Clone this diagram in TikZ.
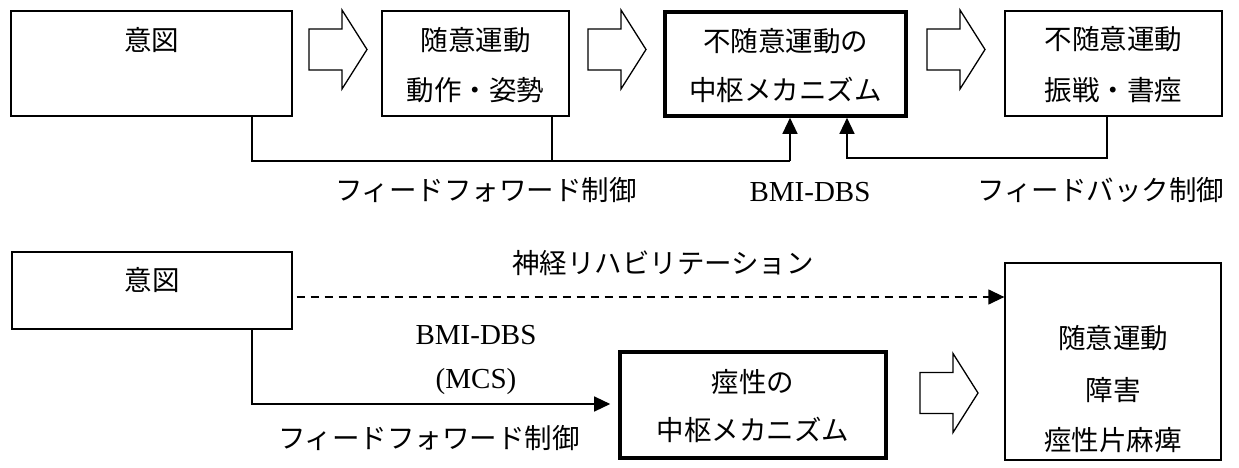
\documentclass[tikz,border=0pt]{standalone}
\usepackage{fontspec}
\setmainfont{Noto Sans CJK JP}
\newfontfamily\latfont{Liberation Serif}
\usetikzlibrary{arrows.meta}
\newcommand\harrow[2]{\draw[hollow] (#1,#2) ++(0,-20.5) -- ++(33,0) -- ++(0,-19) -- ++(25,39.5) -- ++(-25,39.5) -- ++(0,-19) -- ++(-33,0) -- cycle;}
\begin{document}
\begin{tikzpicture}[x=1pt,y=-1pt,
  box/.style={draw, line width=1.3pt, inner sep=0pt},
  tbox/.style={draw, line width=3.6pt, inner sep=0pt},
  txt/.style={font=\fontsize{27.5}{30}\selectfont, inner sep=0pt},
  ltxt/.style={font=\latfont\fontsize{29}{32}\selectfont, inner sep=0pt},
  conn/.style={line width=1.3pt},
  arr/.style={line width=1.3pt, -{Triangle[length=16pt,width=15pt]}},
  hollow/.style={draw, line width=1.3pt, line join=miter}]
\useasboundingbox (0,0) rectangle (1239,468);

% top row boxes
\node[box, minimum width=281pt, minimum height=105pt] (b1) at (151.5,63.5) {};
\node[box, minimum width=187pt, minimum height=105pt] (b2) at (475.5,63.5) {};
\node[tbox, minimum width=241pt, minimum height=104pt] (b3) at (785.5,64) {};
\node[box, minimum width=217pt, minimum height=105pt] (b4) at (1113.5,63.5) {};

\node[txt] (t1) at (151.5,40) {意図};
\node[txt] (t2a) at (475.5,40) {随意運動};
\node[txt] (t2b) at (475.5,90) {動作・姿勢};
\node[txt] (t3a) at (785.5,41) {不随意運動の};
\node[txt] (t3b) at (785.5,90) {中枢メカニズム};
\node[txt] (t4a) at (1113.5,39) {不随意運動};
\node[txt] (t4b) at (1113.5,90) {振戦・書痙};

\harrow{309}{49.5}
\harrow{588}{49.5}
\harrow{927}{49.5}

% top connectors
\coordinate (j1) at (252,161);
\coordinate (j2) at (552,161);
\coordinate (j3) at (790,161);
\draw[conn] (b1.south -| j1) -- (j1) -- (j3);
\draw[conn] (b2.south -| j2) -- (j2);
\draw[arr] (j3) -- (j3 |- b3.south);
\coordinate (k1) at (1107,158);
\coordinate (k2) at (847,158);
\draw[arr] (b4.south -| k1) -- (k1) -- (k2) -- (k2 |- b3.south);

\node[txt] (l1) at (486,190) {フィードフォワード制御};
\node[ltxt] (l2) at (810,192) {BMI-DBS};
\node[txt] (l3) at (1101,190) {フィードバック制御};

% bottom row
\node[box, minimum width=280pt, minimum height=77pt] (b5) at (152,290.5) {};
\node[tbox, minimum width=266pt, minimum height=106pt] (b6) at (753,405) {};
\node[box, minimum width=216pt, minimum height=197pt] (b7) at (1113,361.5) {};

\node[txt] (t5) at (152,280) {意図};
\node[txt] (t6a) at (753,382) {痙性の};
\node[txt] (t6b) at (753,430) {中枢メカニズム};
\node[txt] (t7a) at (1113,338) {随意運動};
\node[txt] (t7b) at (1113,390) {障害};
\node[txt] (t7c) at (1113,440) {痙性片麻痺};

\harrow{920}{393}

\coordinate (dy) at (0,297);
\draw[arr, dash pattern=on 8pt off 6pt] ([xshift=4pt]b5.east |- dy) -- (b7.west |- dy);
\coordinate (m1) at (252,404);
\draw[arr] (b5.south -| m1) -- (m1) -- ([xshift=-8pt]b6.west |- m1);

\node[txt] (l4) at (663,263) {神経リハビリテーション};
\node[ltxt] (l5) at (476,335) {BMI-DBS};
\node[ltxt] (l6) at (476,382) {(MCS)};
\node[txt] (l7) at (429,438) {フィードフォワード制御};
\end{tikzpicture}
\end{document}
